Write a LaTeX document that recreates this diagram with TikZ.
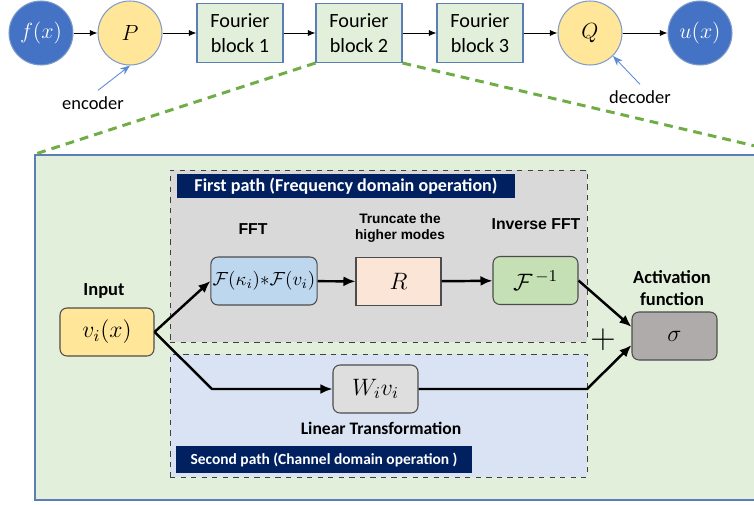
\documentclass[tikz,border=0pt]{standalone}
\usepackage{fix-cm}
\usepackage{fontspec}
\setmainfont{Carlito}
\newfontfamily\arialfont{Liberation Sans}
\usepackage{tikz}
\usetikzlibrary{arrows.meta,positioning,calc}
\usepackage{xcolor}

\definecolor{deepblue}{HTML}{4472C4}
\definecolor{ringblue}{HTML}{7F9BCB}
\definecolor{frameblue}{HTML}{5B7DB8}
\definecolor{softyellow}{HTML}{FFE699}
\definecolor{palegreen}{HTML}{E2EFDA}
\definecolor{lanegray}{HTML}{D9D9D9}
\definecolor{laneblue}{HTML}{DAE3F3}
\definecolor{navybar}{HTML}{002060}
\definecolor{fftblue}{HTML}{BDD7EE}
\definecolor{peach}{HTML}{FBE5D6}
\definecolor{invgreen}{HTML}{C5E0B4}
\definecolor{sigmagray}{HTML}{AFABAB}
\definecolor{wgray}{HTML}{DEDEDE}
\definecolor{zoomgreen}{HTML}{70AD47}
\definecolor{pointerblue}{HTML}{5B8BD5}

\begin{document}
\begin{tikzpicture}[x=0.02cm, y=-0.02cm,
  every node/.style={font=\fontsize{11.5}{14}\selectfont},
  disc/.style={circle, draw=ringblue, line width=0.6pt, minimum size=1.28cm, inner sep=0pt},
  outer/.style={disc, fill=deepblue, text=white},
  coder/.style={disc, fill=softyellow},
  fblock/.style={draw=frameblue, fill=palegreen, line width=0.6pt, minimum width=1.72cm,
                 minimum height=1.18cm, align=center, inner sep=1pt},
  op/.style={draw=black!70, line width=0.6pt, rounded corners=4pt, minimum width=1.7cm,
             minimum height=0.96cm, inner sep=1pt, font=\fontsize{13.5}{15}\selectfont},
  lane/.style={draw=black!75, dashed, line width=0.5pt, minimum width=8.34cm, inner sep=0pt},
  banner/.style={fill=navybar, text=white, inner sep=0pt},
  tag/.style={font=\arialfont\fontsize{9}{11}\selectfont\bfseries, align=center},
  ctag/.style={font=\fontsize{10.5}{12.5}\selectfont\bfseries, align=center},
  flow/.style={-{Latex[length=2.4mm,width=2mm]}, line width=1.4pt},
  link/.style={-{Latex[length=1.5mm,width=1.2mm]}, line width=0.5pt},
  pointer/.style={-{Stealth[length=2mm]}, draw=pointerblue, line width=0.5pt},
  zoomline/.style={draw=zoomgreen, line width=1.7pt, dash pattern=on 5pt off 3.5pt}
]
\useasboundingbox (0,0) rectangle (754,504);

% top row: lifting, three Fourier layers, projection
\node[outer, font=\fontsize{12.5}{14}\selectfont] (fx) at (41,33) {$f(x)$};
\node[coder, font=\fontsize{12.5}{14}\selectfont] (P) at (130,33) {$P$};
\node[fblock] (b1) at (240,33) {Fourier\\block 1};
\node[fblock] (b2) at (359,33) {Fourier\\block 2};
\node[fblock] (b3) at (480,33) {Fourier\\block 3};
\node[coder, font=\fontsize{12.5}{14}\selectfont] (Q) at (590,33) {$Q$};
\node[outer, font=\fontsize{12.5}{14}\selectfont] (ux) at (700,33) {$u(x)$};

\draw[link] (fx) -- (P);
\draw[link] (P) -- (b1);
\draw[link] (b1) -- (b2);
\draw[link] (b2) -- (b3);
\draw[link] (b3) -- (Q);
\draw[link] (Q) -- (ux);

\node[font=\fontsize{10.5}{12}\selectfont] (enc) at (93,103) {encoder};
\node[font=\fontsize{10.5}{12}\selectfont] (dec) at (640,97) {decoder};
\draw[pointer] ([xshift=0.1cm]enc.north) -- (P.south);
\draw[pointer] (dec.north) -- (Q.-45);

% zoomed view of one Fourier block
\node[draw=frameblue, fill=palegreen, line width=0.8pt, minimum width=15.1cm,
      minimum height=6.9cm, inner sep=0pt] (zoom) at (412.5,327.5) {};
\draw[zoomline] (b2.south west) -- (zoom.north west);
\draw[zoomline] (b2.south east) -- (zoom.north east);

\node[lane, fill=lanegray, minimum height=3.44cm] (first) at (378.5,256) {};
\node[lane, fill=laneblue, minimum height=2.46cm] (second) at (378.5,415.5) {};
\node[banner, minimum width=6.76cm, minimum height=0.48cm,
      font=\fontsize{10.3}{12}\selectfont\bfseries] (firsttitle) at (346,186)
  {First path (Frequency domain operation)};
\node[banner, minimum width=5.92cm, minimum height=0.54cm,
      font=\fontsize{8.8}{11}\selectfont\bfseries] (secondtitle) at (324,459.5)
  {Second path (Channel domain operation )};

\node[op, fill=softyellow, minimum width=1.88cm] (vin) at (107,332) {$v_i(x)$};
\node[op, fill=fftblue, minimum width=2.12cm, font=\fontsize{10.8}{12}\selectfont] (fk) at (264,281)
  {$\mathcal{F}(\kappa_i){*}\mathcal{F}(v_i)$};
\node[op, fill=peach, rounded corners=0pt] (trunc) at (398.5,281.5) {$R$};
\node[op, fill=invgreen] (ifft) at (535.5,280.5) {$\mathcal{F}^{\,-1}$};
\node[op, fill=wgray] (lin) at (375.5,389) {$W_i v_i$};
\node[op, fill=sigmagray] (act) at (674.5,336) {$\sigma$};

\node[ctag] (inlbl) at (104,291) {Input};
\node[tag] (fftlbl) at (253,229) {FFT};
\node[tag, font=\arialfont\fontsize{7.8}{9.5}\selectfont\bfseries] (trunclbl) at (400,228)
  {Truncate the\\higher modes};
\node[tag] (ifftlbl) at (536,224) {Inverse FFT};
\node[ctag] (actlbl) at (672,288) {Activation\\function};
\node[ctag, font=\fontsize{10}{12}\selectfont\bfseries] (linlbl) at (381,428) {Linear Transformation};
\node[font=\fontsize{20}{20}\selectfont] (plus) at (603,340) {$+$};

\coordinate (bend) at (212,389);
\coordinate (joint) at (587,389);

\draw[flow] (vin.east) -- (fk.west);
\draw[flow] (fk) -- (trunc);
\draw[flow] (trunc) -- (ifft);
\draw[flow] (ifft.east) -- (act.168);
\draw[flow] (vin.east) -- (bend) -- (lin.west);
\draw[flow] (lin.east) -- (joint) -- (act.192);
\end{tikzpicture}
\end{document}
